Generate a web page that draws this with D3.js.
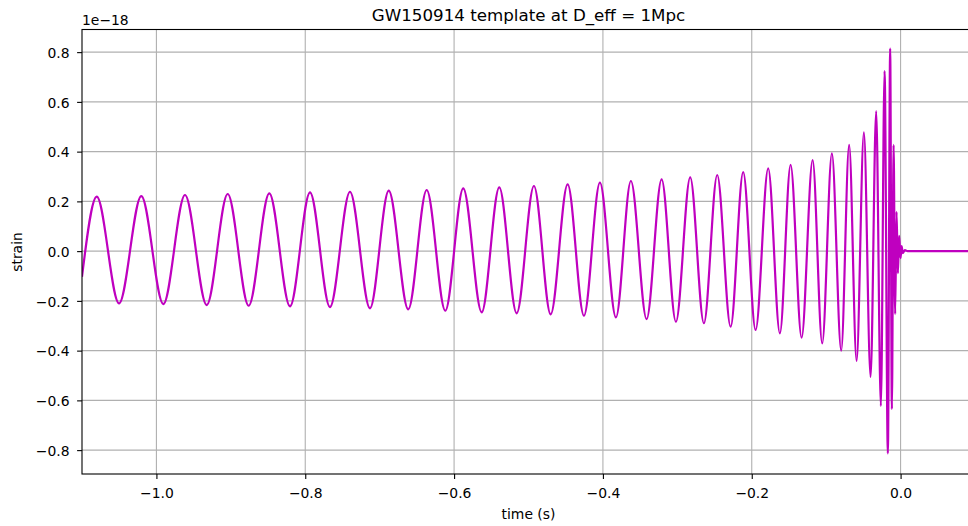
<!DOCTYPE html>
<html>
<head>
<meta charset="utf-8">
<script src="https://cdn.jsdelivr.net/npm/d3@7"></script>
<style>
  body { margin: 0; background: #fff; }
  text { font-family: "DejaVu Sans", sans-serif; fill: #000; }
</style>
</head>
<body>
<svg id="chart" width="968" height="526"></svg>
<script>
// extrema of the template (time in s, strain in units of 1e-18)
const extremaTime = [
  -1.1, -1.0802, -1.0502, -1.0203, -0.9907, -0.9616, -0.9324, -0.9042, -0.8760,
  -0.8483, -0.8205, -0.7936, -0.7668, -0.7399, -0.7130, -0.6878, -0.6616, -0.6368,
  -0.6118, -0.5877, -0.5629, -0.5393, -0.5159, -0.4927, -0.4702, -0.4474, -0.4255,
  -0.4040, -0.3825, -0.3624, -0.3413, -0.3211, -0.3019, -0.2827, -0.2643, -0.2464,
  -0.2284, -0.2115, -0.1948, -0.1779, -0.1622, -0.1478, -0.1330, -0.1182, -0.1053,
  -0.0923, -0.0798, -0.0691, -0.0591, -0.0493, -0.0403, -0.0328, -0.0265, -0.0215,
  -0.0171, -0.0140, -0.0117, -0.0094, -0.0073, -0.0054, -0.0036, -0.0019, 0.0000,
  0.0013, 0.0031, 0.0058, 0.0095, 0.1
];
const extremaStrain = [
  -0.103, 0.219, -0.210, 0.2215, -0.2127, 0.2256, -0.2167, 0.2296, -0.2195,
  0.2324, -0.222, 0.2364, -0.2248, 0.2388, -0.230, 0.2429, -0.234, 0.2457,
  -0.2396, 0.2525, -0.246, 0.2565, -0.250, 0.2618, -0.254, 0.2686, -0.2597,
  0.2750, -0.266, 0.2819, -0.2730, 0.2887, -0.284, 0.2967, -0.290, 0.306,
  -0.304, 0.318, -0.317, 0.333, -0.3305, 0.347, -0.348, 0.366, -0.371,
  0.393, -0.400, 0.427, -0.441, 0.478, -0.506, 0.563, -0.623, 0.724,
  -0.813, 0.814, -0.635, 0.427, -0.253, 0.158, -0.089, 0.061, -0.028,
  0.02, -0.008, 0.004, 0, 0
];

const xTicks = [-1.0, -0.8, -0.6, -0.4, -0.2, 0.0];
const yTicks = [-0.8, -0.6, -0.4, -0.2, 0.0, 0.2, 0.4, 0.6, 0.8];

const plotLeft = 82, plotRight = 975, plotTop = 29.5, plotBottom = 474;

const svg = d3.select("#chart");

const x = d3.scaleLinear().domain([-1.1, 0.1]).range([plotLeft, plotRight]);
const y = d3.scaleLinear().domain([-0.896, 0.891]).range([plotBottom, plotTop]);

// grid
svg.append("g").selectAll("line")
  .data(xTicks)
  .join("line")
    .attr("x1", d => x(d)).attr("x2", d => x(d))
    .attr("y1", plotTop).attr("y2", plotBottom)
    .attr("stroke", "#b0b0b0").attr("stroke-width", 1.1);

svg.append("g").selectAll("line")
  .data(yTicks)
  .join("line")
    .attr("x1", plotLeft).attr("x2", plotRight)
    .attr("y1", d => y(d)).attr("y2", d => y(d))
    .attr("stroke", "#b0b0b0").attr("stroke-width", 1.1);

svg.append("clipPath").attr("id", "plotclip")
  .append("rect")
    .attr("x", plotLeft).attr("y", plotTop)
    .attr("width", plotRight - plotLeft).attr("height", plotBottom - plotTop);

const pts = extremaTime.map((t, i) => [t, extremaStrain[i]]);

const line = d3.line()
  .x(d => x(d[0]))
  .y(d => y(d[1]))
  .curve(d3.curveMonotoneX);

svg.append("path")
  .datum(pts)
  .attr("clip-path", "url(#plotclip)")
  .attr("fill", "none")
  .attr("stroke", "#bf00bf")
  .attr("stroke-width", 2.2)
  .attr("stroke-linejoin", "round")
  .attr("d", line);

// axes
const fmt = d3.format(".1f");

const gx = svg.append("g")
  .attr("transform", `translate(0,${plotBottom})`)
  .call(d3.axisBottom(x).tickValues(xTicks).tickFormat(fmt).tickSize(4.9));
gx.select(".domain").remove();
gx.selectAll("line").attr("stroke", "#000").attr("stroke-width", 1.1);
gx.selectAll("text").attr("dy", null).attr("y", 24)
  .style("font-size", "13.9px").style("font-family", "DejaVu Sans");

const gy = svg.append("g")
  .attr("transform", `translate(${plotLeft},0)`)
  .call(d3.axisLeft(y).tickValues(yTicks).tickFormat(fmt).tickSize(4.9));
gy.select(".domain").remove();
gy.selectAll("line").attr("stroke", "#000").attr("stroke-width", 1.1);
gy.selectAll("text").attr("x", -12.5).attr("dy", "0.38em")
  .style("font-size", "13.9px").style("font-family", "DejaVu Sans");

// spines
svg.append("rect")
  .attr("x", plotLeft).attr("y", plotTop)
  .attr("width", plotRight - plotLeft).attr("height", plotBottom - plotTop)
  .attr("fill", "none").attr("stroke", "#000").attr("stroke-width", 1.1);

// texts
svg.append("text")
  .attr("x", 528.5).attr("y", 21)
  .attr("text-anchor", "middle")
  .style("font-size", "16.7px")
  .text("GW150914 template at D_eff = 1Mpc");

svg.append("text")
  .attr("x", 82).attr("y", 25)
  .style("font-size", "13.9px")
  .text("1e\u221218");

svg.append("text")
  .attr("x", 528.5).attr("y", 519)
  .attr("text-anchor", "middle")
  .style("font-size", "13.9px")
  .text("time (s)");

svg.append("text")
  .attr("transform", "translate(21.7,252) rotate(-90)")
  .attr("text-anchor", "middle")
  .style("font-size", "13.9px")
  .text("strain");
</script>
</body>
</html>
